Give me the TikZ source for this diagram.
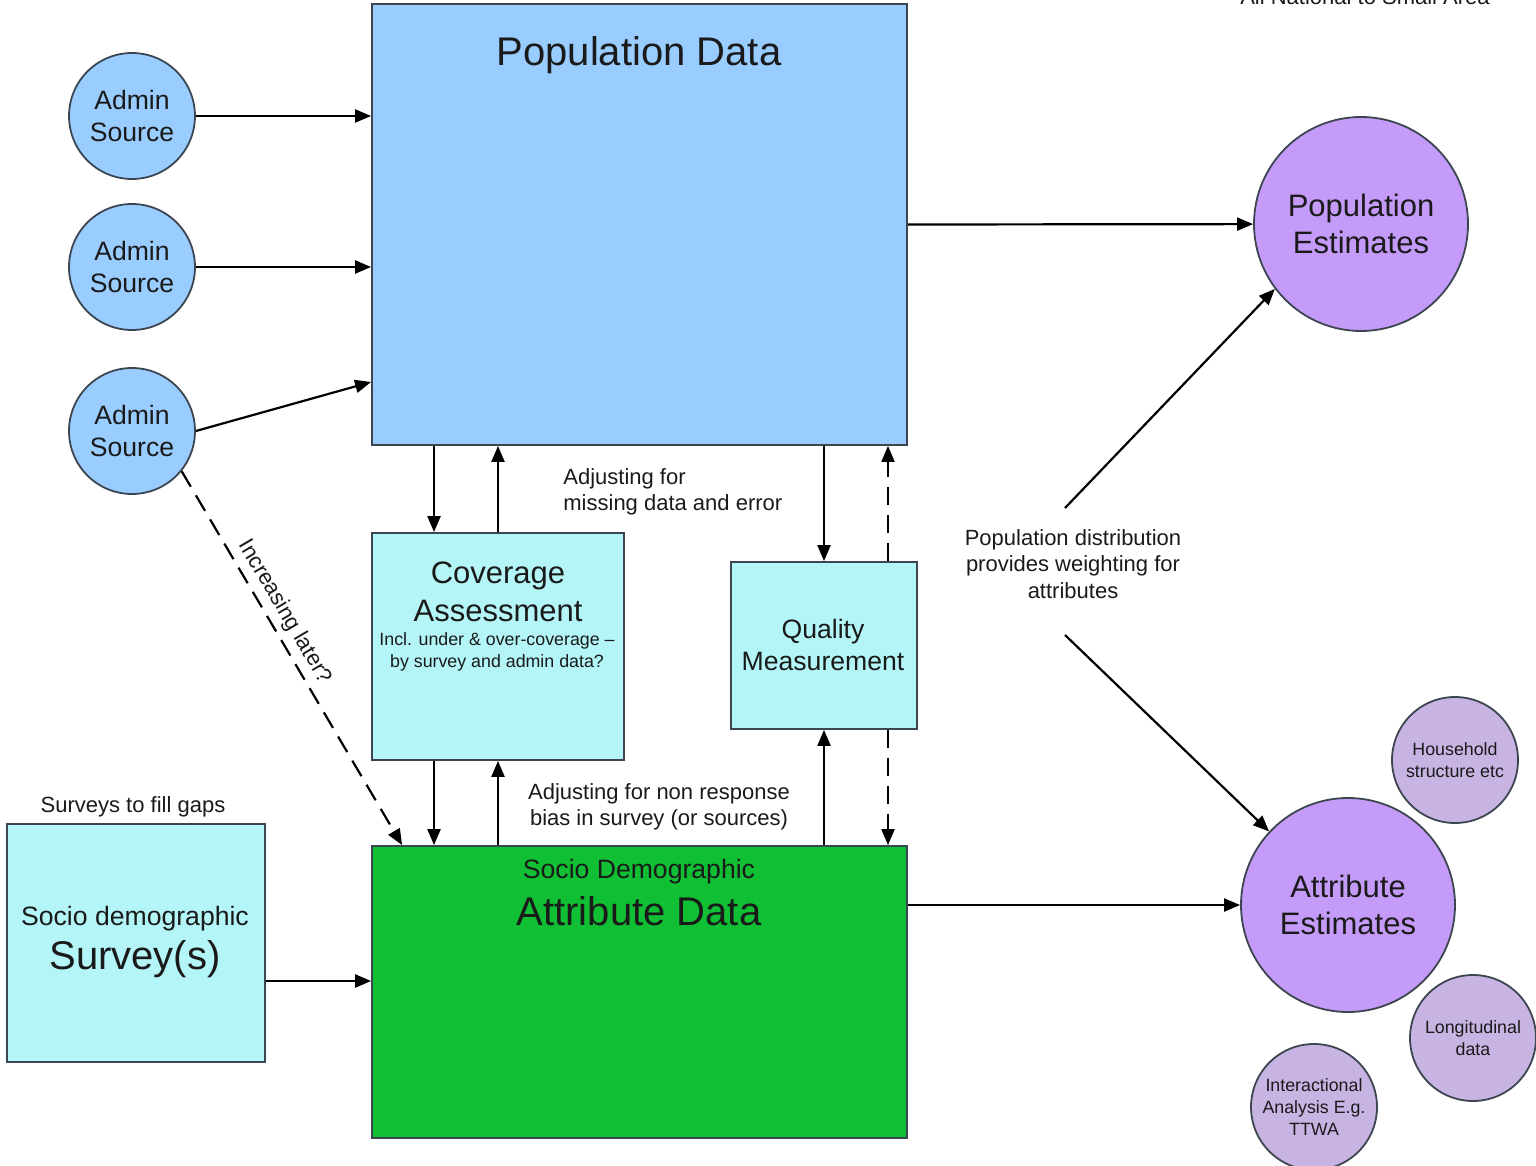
\documentclass[tikz,border=0pt]{standalone}
\usepackage{fontspec}
\setmainfont{Liberation Sans}
\usetikzlibrary{arrows.meta,calc}
\definecolor{popblue}{HTML}{99CCFF}
\definecolor{cyanbox}{HTML}{B4F5F7}
\definecolor{greenbox}{HTML}{10BF33}
\definecolor{bigpurple}{HTML}{C49BF8}
\definecolor{smallpurple}{HTML}{C8B4E2}
\definecolor{edgegrey}{HTML}{3C4650}
\definecolor{txt}{HTML}{1A1A1A}
\newcommand\fsXL{\fontsize{20}{24}\selectfont}
\newcommand\fsL{\fontsize{15.5}{18.5}\selectfont}
\newcommand\fsM{\fontsize{13.3}{15.8}\selectfont}
\newcommand\fsS{\fontsize{11}{13.1}\selectfont}
\newcommand\fsXS{\fontsize{8.9}{10.8}\selectfont}
\begin{document}
\begin{tikzpicture}[x=0.5pt,y=-0.5pt,
  box/.style={rectangle,draw=edgegrey,line width=0.9pt,inner sep=0pt},
  circ/.style={circle,draw=edgegrey,line width=0.9pt,inner sep=0pt,align=center,text=txt},
  lbl/.style={inner sep=0pt,align=center,text=txt},
  arr/.style={line width=1.1pt,-{Triangle[length=8pt,width=6.5pt]}},
  dasharr/.style={arr,dash pattern=on 9pt off 5pt}]
\useasboundingbox (0,0) rectangle (1536,1166);

% main boxes
\node[box,fill=popblue,minimum width=267.5pt,minimum height=220.5pt] (pop) at (639.5,224.5) {};
\node[lbl,font=\fsXL] (poptitle) at (639,55) {Population Data};

\node[box,fill=cyanbox,minimum width=126pt,minimum height=113.5pt] (cov) at (498,646.5) {};
\node[lbl,font=\fsL] (covtitle) at (498,592) {Coverage\\[0.2pt]Assessment};
\node[lbl,font=\fsXS] (covsub) at (497,652) {Incl. under \& over-coverage --\\by survey and admin data?};

\node[box,fill=cyanbox,minimum width=93pt,minimum height=83.5pt] (qual) at (824,645.5) {};
\node[lbl,font=\fsM] (qualtitle) at (823,645) {Quality\\[0.2pt]Measurement};

\node[box,fill=greenbox,minimum width=267.5pt,minimum height=146pt] (attr) at (639.5,992) {};
\node[lbl,font=\fsM] (attrsub) at (639,872) {Socio Demographic};
\node[lbl,font=\fsXL] (attrtitle) at (639,911) {Attribute Data};

\node[box,fill=cyanbox,minimum width=129pt,minimum height=119pt] (surv) at (136,943) {};
\node[lbl,font=\fsM] (survsub) at (135,919) {Socio demographic};
\node[lbl,font=\fsXL] (survtitle) at (135,959) {Survey(s)};
\node[lbl,font=\fsS] (survnote) at (133,807) {Surveys to fill gaps};

% admin sources
\node[circ,fill=popblue,minimum size=63pt,font=\fsM] (a1) at (132,116) {Admin\\[0pt]Source};
\node[circ,fill=popblue,minimum size=63pt,font=\fsM] (a2) at (132,267) {Admin\\[0pt]Source};
\node[circ,fill=popblue,minimum size=63pt,font=\fsM] (a3) at (132,431) {Admin\\[0pt]Source};

% estimates
\node[circ,fill=bigpurple,minimum size=107pt,font=\fsL] (popest) at (1361,224) {Population\\[0pt]Estimates};
\node[circ,fill=bigpurple,minimum size=107pt,font=\fsL] (attrest) at (1348,905) {Attribute\\[0pt]Estimates};

\node[circ,fill=smallpurple,minimum size=63pt,font=\fsXS] (house) at (1455,760) {Household\\structure etc};
\node[circ,fill=smallpurple,minimum size=63pt,font=\fsXS] (longi) at (1473,1038) {Longitudinal\\data};
\node[circ,fill=smallpurple,minimum size=63pt,font=\fsXS] (inter) at (1314,1107) {Interactional\\Analysis E.g.\\TTWA};

% labels
\node[lbl,font=\fsS,anchor=base] (topnote) at (1365,5) {All National to Small Area};
\node[lbl,font=\fsS,anchor=west,align=left] (adjmiss) at (563,492) {Adjusting for\\missing data and error};
\node[lbl,font=\fsS] (adjnon) at (659,807) {Adjusting for non response\\bias in survey (or sources)};
\node[lbl,font=\fsS] (dist) at (1073,564) {Population distribution\\provides weighting for\\attributes};

\coordinate (d1) at (1065,508);
\coordinate (d2) at (1065,635);

% connectors
\draw[arr] (a1.east) -- (a1.east -| pop.west);
\draw[arr] (a2.east) -- (a2.east -| pop.west);
\draw[arr] (a3.east) -- ([yshift=-78.75pt]pop.west);
\draw[dasharr] (a3.-39) -- node[pos=0.4,sloped,above,lbl,font=\fsS,inner sep=3pt] (inclbl) {Increasing later?} ([xshift=15.5pt]attr.north west);

\draw[arr] (pop.east) -- (popest);
\draw[arr] (attr.east |- attrest.west) -- (attrest.west);
\draw[arr] ([yshift=-19pt]surv.east) -- ([yshift=-19pt]surv.east -| attr.west);

\draw[arr] ([xshift=-32pt]cov.north |- pop.south) -- ([xshift=-32pt]cov.north);
\draw[arr] (cov.north) -- (cov.north |- pop.south);
\draw[arr] ([xshift=-32pt]cov.south) -- ([xshift=-32pt]cov.south |- attr.north);
\draw[arr] (cov.south |- attr.north) -- (cov.south);

\draw[arr] (qual.north |- pop.south) -- (qual.north);
\draw[dasharr] ([xshift=32pt]qual.north) -- ([xshift=32pt]qual.north |- pop.south);
\draw[arr] (qual.south |- attr.north) -- (qual.south);
\draw[dasharr] ([xshift=32pt]qual.south) -- ([xshift=32pt]qual.south |- attr.north);

\draw[arr] (d1) -- (popest.217);
\draw[arr] (d2) -- (attrest.137);
\end{tikzpicture}
\end{document}
